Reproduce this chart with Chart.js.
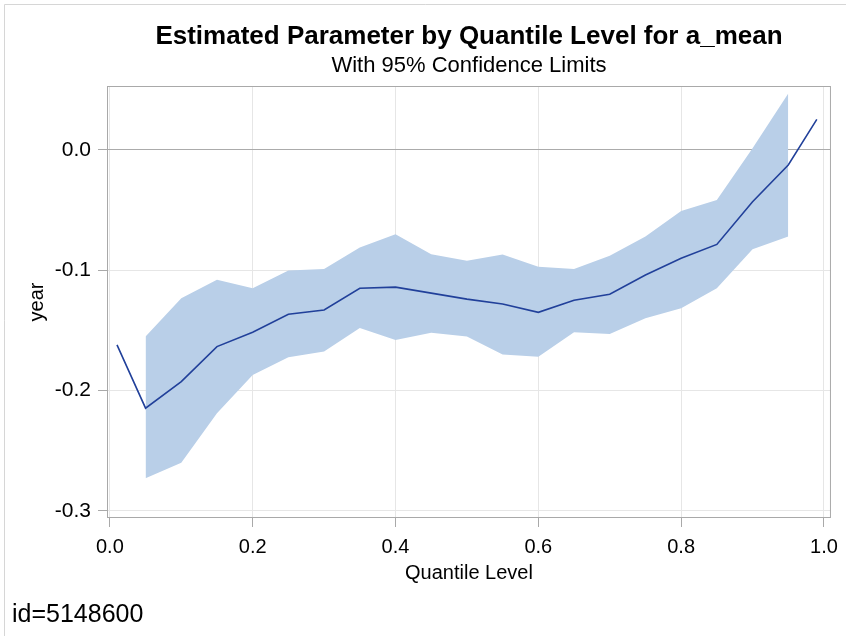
<!DOCTYPE html>
<html>
<head>
<meta charset="utf-8">
<script src="https://cdn.jsdelivr.net/npm/chart.js@4.4.1/dist/chart.umd.min.js"></script>
<style>
  html, body { margin: 0; padding: 0; background: #ffffff; }
  canvas { display: block; }
</style>
</head>
<body>
<canvas id="quantileChart" width="846" height="636"></canvas>
<script>
// Quantile levels and the estimated parameter at each level
const quantileLevels = [0.01, 0.05, 0.10, 0.15, 0.20, 0.25, 0.30, 0.35, 0.40, 0.45, 0.50,
                        0.55, 0.60, 0.65, 0.70, 0.75, 0.80, 0.85, 0.90, 0.95, 0.99];
const estimates = [-0.162, -0.2147, -0.1926, -0.1635, -0.1516, -0.1366, -0.133, -0.115, -0.114, -0.119, -0.124,
                   -0.128, -0.135, -0.125, -0.120, -0.104, -0.090, -0.0785, -0.043, -0.0125, 0.0255];

// 95% confidence limits (available from 0.05 to 0.95)
const bandLevels = [0.05, 0.10, 0.15, 0.20, 0.25, 0.30, 0.35, 0.40, 0.45, 0.50,
                    0.55, 0.60, 0.65, 0.70, 0.75, 0.80, 0.85, 0.90, 0.95];
const upperLimits = [-0.155, -0.1233, -0.108, -0.115, -0.1003, -0.099, -0.081, -0.070, -0.0867, -0.092,
                     -0.087, -0.097, -0.099, -0.088, -0.072, -0.0507, -0.0416, 0.0014, 0.047];
const lowerLimits = [-0.273, -0.260, -0.219, -0.187, -0.1724, -0.1676, -0.148, -0.158, -0.152, -0.155,
                     -0.170, -0.172, -0.1516, -0.153, -0.140, -0.1316, -0.115, -0.0826, -0.072];

// Tick values
const xTickValues = [0.0, 0.2, 0.4, 0.6, 0.8, 1.0];
const yTickValues = [-0.3, -0.2, -0.1, 0.0];

// Texts
const titleText = 'Estimated Parameter by Quantile Level for a_mean';
const subtitleText = 'With 95% Confidence Limits';
const footnoteText = 'id=5148600';
const xAxisTitle = 'Quantile Level';
const yAxisTitle = 'year';

const FONT = '"Liberation Sans", Arial, Helvetica, sans-serif';
const FRAME = '#a9a9a9';
const GRID = '#e6e6e6';
const BAND = '#b9cfe8';
const LINE = '#21409a';

// Titles, footnote, outer border and plot frame
const decorPlugin = {
  id: 'decor',
  afterDraw(chart) {
    const { ctx, chartArea } = chart;
    const cx = (chartArea.left + chartArea.right) / 2;
    ctx.save();
    ctx.fillStyle = '#000000';
    ctx.textAlign = 'center';
    ctx.textBaseline = 'alphabetic';
    ctx.font = 'bold 26px ' + FONT;
    ctx.fillText(titleText, cx, 44);
    ctx.font = '22px ' + FONT;
    ctx.fillText(subtitleText, cx, 72);
    ctx.textAlign = 'left';
    ctx.font = '25px ' + FONT;
    ctx.fillText(footnoteText, 12, 622);

    ctx.lineWidth = 1;
    ctx.strokeStyle = '#d6d6d6';
    ctx.beginPath();
    ctx.moveTo(4.5, 636);
    ctx.lineTo(4.5, 4.5);
    ctx.lineTo(846, 4.5);
    ctx.stroke();

    ctx.strokeStyle = FRAME;
    ctx.strokeRect(chartArea.left + 0.5, chartArea.top + 0.5, chartArea.width - 1, chartArea.height - 1);
    ctx.restore();
  }
};

const toPoints = (xs, ys) => xs.map((x, i) => ({ x: x, y: ys[i] }));

new Chart(document.getElementById('quantileChart'), {
  type: 'line',
  data: {
    datasets: [
      {
        label: 'Estimate',
        data: toPoints(quantileLevels, estimates),
        borderColor: LINE,
        borderWidth: 1.6,
        pointRadius: 0,
        tension: 0,
        fill: false
      },
      {
        label: 'Upper 95% CL',
        data: toPoints(bandLevels, upperLimits),
        borderColor: 'rgba(0,0,0,0)',
        borderWidth: 0,
        pointRadius: 0,
        tension: 0,
        backgroundColor: BAND,
        fill: '+1'
      },
      {
        label: 'Lower 95% CL',
        data: toPoints(bandLevels, lowerLimits),
        borderColor: 'rgba(0,0,0,0)',
        borderWidth: 0,
        pointRadius: 0,
        tension: 0,
        fill: false
      }
    ]
  },
  options: {
    responsive: false,
    animation: false,
    layout: { padding: { top: 86, left: 0, right: 14, bottom: 0 } },
    plugins: {
      legend: { display: false },
      tooltip: { enabled: false },
      title: { display: false }
    },
    scales: {
      x: {
        type: 'linear',
        min: -0.004,
        max: 1.0098,
        afterBuildTicks: s => { s.ticks = xTickValues.map(v => ({ value: v })); },
        afterFit: s => { s.height = 118; },
        ticks: {
          color: '#000000',
          font: { family: FONT, size: 20 },
          padding: 8,
          maxRotation: 0,
          callback: v => Number(v).toFixed(1)
        },
        grid: {
          color: GRID,
          tickColor: FRAME,
          tickLength: 9,
          drawTicks: true
        },
        border: { display: false },
        title: {
          display: true,
          text: xAxisTitle,
          color: '#000000',
          font: { family: FONT, size: 20 },
          padding: { top: 51, bottom: 51 }
        }
      },
      y: {
        type: 'linear',
        min: -0.306,
        max: 0.0532,
        afterBuildTicks: s => { s.ticks = yTickValues.map(v => ({ value: v })); },
        afterFit: s => { s.width = 107; },
        ticks: {
          color: '#000000',
          font: { family: FONT, size: 21 },
          padding: 7,
          callback: v => Number(v).toFixed(1)
        },
        grid: {
          color: c => (c.tick && Math.abs(c.tick.value) < 1e-9) ? '#ababab' : GRID,
          tickColor: FRAME,
          tickLength: 9,
          drawTicks: true
        },
        border: { display: false },
        title: {
          display: true,
          text: yAxisTitle,
          color: '#000000',
          font: { family: FONT, size: 20 },
          padding: { top: 25, bottom: 25 }
        }
      }
    }
  },
  plugins: [decorPlugin]
});
</script>
</body>
</html>
